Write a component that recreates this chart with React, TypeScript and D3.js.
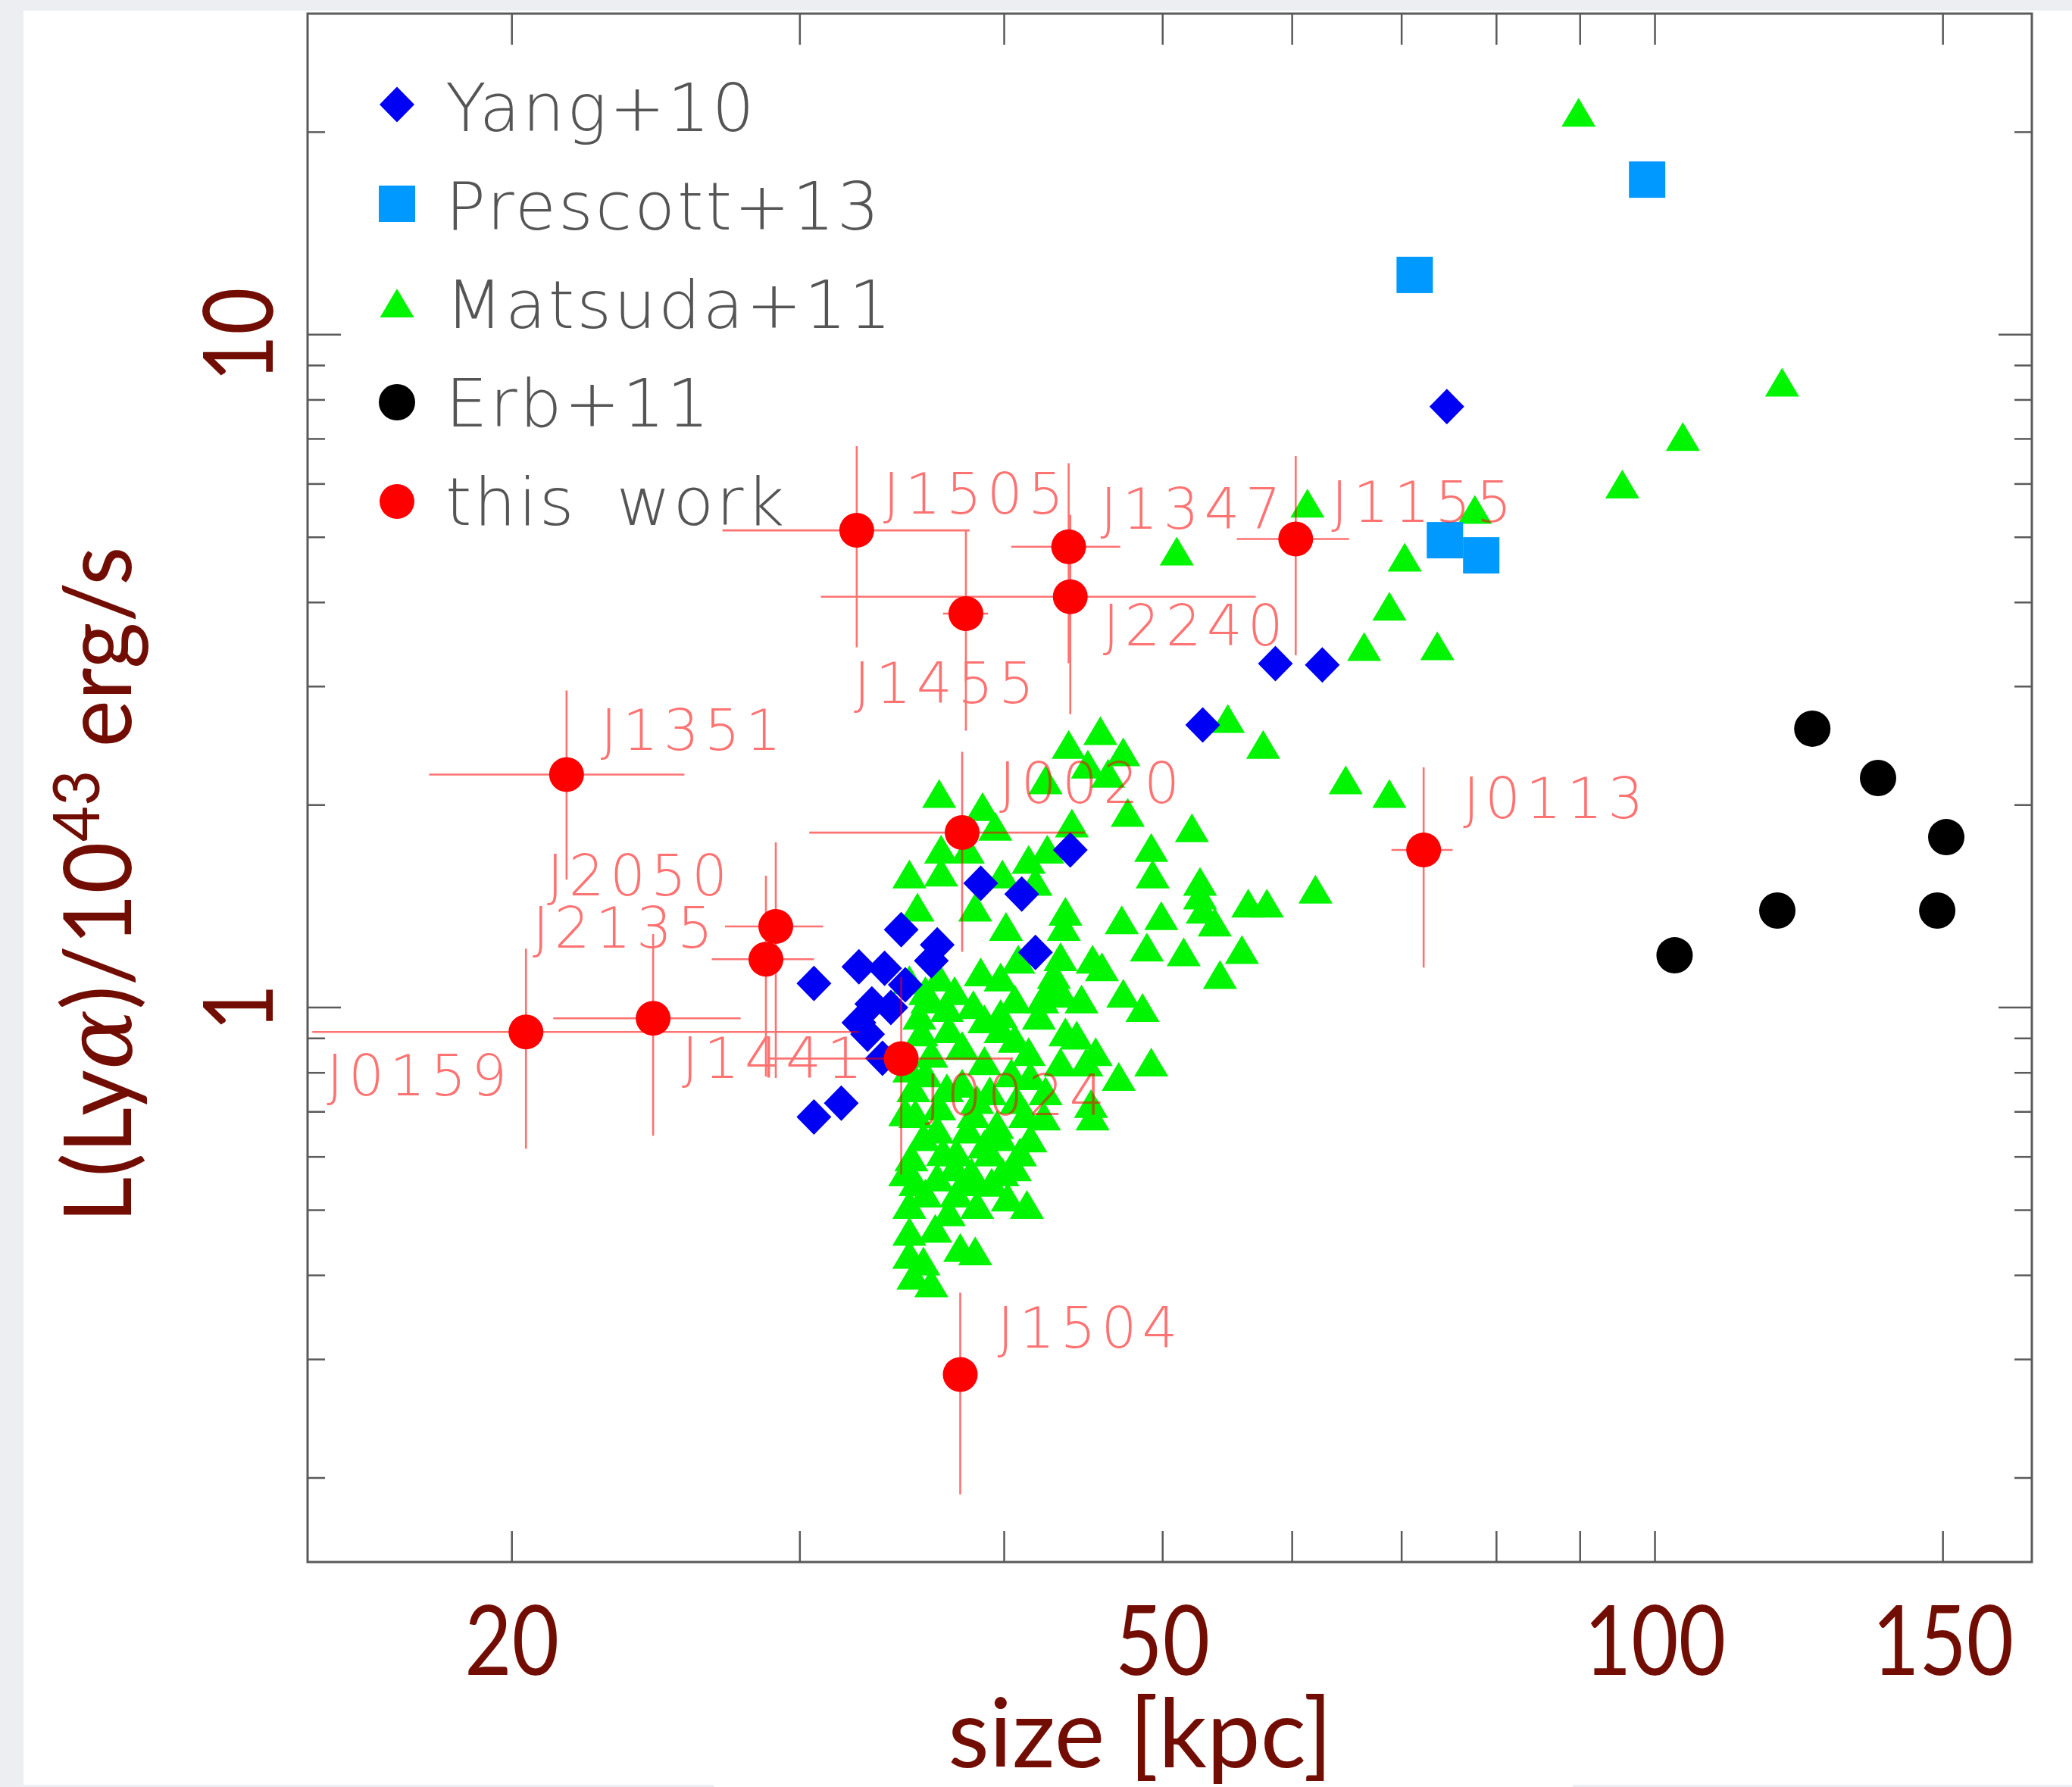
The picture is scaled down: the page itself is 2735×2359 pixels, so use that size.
import { useEffect } from 'react';
import * as d3 from 'd3';

// ---- data (size [kpc], L(Lya) / 1e43 erg/s) ----
const yang10: [number, number][] = [
  [74.6, 7.82], [58.6, 3.245], [62.6, 3.23], [52.9, 2.63], [43.9, 1.715], [38.7, 1.53],
  [41.0, 1.475], [41.8, 1.208], [34.6, 1.306], [36.4, 1.24], [36.1, 1.174], [30.6, 1.086],
  [32.6, 1.15], [33.8, 1.144], [34.8, 1.081], [33.2, 1.013], [34.1, 1.0], [32.6, 0.95],
  [33.0, 0.913], [33.7, 0.841], [30.6, 0.688], [31.8, 0.721],
];

const prescott13: [number, number][] = [
  [98.9, 17.0], [71.3, 12.27], [74.4, 4.95], [78.3, 4.7],
];

const matsuda11: [number, number][] = [
  [89.8, 21.4], [119.6, 8.5], [104.0, 7.06], [95.5, 6.0], [61.3, 5.62], [77.6, 5.5],
  [51.0, 4.77], [70.3, 4.67], [68.8, 3.95], [66.4, 3.44], [73.6, 3.45], [54.8, 2.69],
  [57.6, 2.46], [64.7, 2.18], [68.8, 2.08], [62.0, 1.5],
  [45.8, 2.58], [43.8, 2.46], [47.3, 2.4], [42.4, 2.18], [46.3, 2.23], [45.0, 2.3],
  [47.6, 1.95], [52.1, 1.85], [49.2, 1.73], [49.3, 1.58], [52.7, 1.54], [52.7, 1.47],
  [56.4, 1.43], [57.9, 1.43], [52.9, 1.4], [49.9, 1.37], [53.8, 1.34], [47.2, 1.35],
  [48.9, 1.23], [51.5, 1.21], [55.9, 1.22], [54.2, 1.12], [45.9, 1.15], [47.3, 1.05],
  [48.6, 1.0], [45.3, 1.18], [43.3, 1.19], [40.8, 1.18], [42.6, 1.07], [44.6, 1.03],
  [49.2, 0.83], [47.0, 0.79], [45.2, 0.72], [45.3, 0.69], [43.6, 0.92], [45.5, 0.86],
  [41.4, 0.86], [39.8, 0.93], [37.3, 1.06], [35.8, 1.06],
  [36.5, 2.08], [38.8, 1.99], [39.5, 1.86], [36.6, 1.72], [38.0, 1.72], [35.0, 1.58],
  [36.6, 1.59], [35.4, 1.41], [38.4, 1.41], [39.9, 1.58], [41.4, 1.66], [42.5, 1.72],
  [44.0, 1.88], [41.8, 1.54], [40.1, 1.32], [43.6, 1.39], [43.5, 1.32], [42.9, 1.12],
  [38.7, 1.13], [35.9, 1.03], [43.4, 1.05], [42.2, 1.03], [39.8, 0.98], [38.3, 1.01],
  [37.0, 0.93], [35.6, 0.92], [44.3, 0.91], [44.9, 0.83], [43.3, 0.83], [42.3, 0.69],
  [40.7, 0.73], [38.5, 0.73], [36.9, 0.76], [35.2, 0.76], [34.8, 0.7], [36.4, 0.66],
  [38.0, 0.66], [39.6, 0.67], [41.5, 0.64], [40.9, 0.61], [39.2, 0.61], [37.4, 0.61],
  [35.1, 0.6], [34.8, 0.57], [36.4, 0.56], [38.2, 0.57], [39.9, 0.57], [39.3, 0.55],
  [37.4, 0.53], [35.8, 0.53], [41.3, 0.51], [35.0, 0.51], [36.3, 0.47], [35.0, 0.465],
  [37.6, 0.44], [38.4, 0.435], [35.0, 0.43], [35.7, 0.42], [35.2, 0.4], [36.1, 0.39],
  [35.5, 0.974], [36.9, 1.0], [38.9, 0.962], [40.6, 1.03], [36.1, 0.855], [37.7, 0.878],
  [38.9, 0.834], [40.4, 0.8], [35.0, 0.813], [36.5, 0.714], [37.7, 0.772], [39.2, 0.752],
  [41.2, 0.696], [35.7, 0.643], [37.3, 0.58], [38.9, 0.627], [40.6, 0.58], [37.0, 0.497],
  [38.5, 0.51], [35.3, 0.696], [42.4, 0.752], [35.0, 1.1], [42.0, 0.974], [36.5, 1.11],
  [39.8, 1.11], [40.6, 0.9], [35.8, 0.8], [38.3, 0.696], [39.8, 0.643], [36.7, 0.611],
  [38.2, 0.551], [40.2, 0.523], [35.3, 0.551], [41.5, 0.792],
];

const erb11: [number, number][] = [
  [124.8, 2.597], [136.9, 2.194], [150.7, 1.792], [148.8, 1.394], [118.8, 1.394], [102.8, 1.196],
];

// this work: name, size (lo, hi), luminosity (lo, hi)
const workNames = ['J1505', 'J1455', 'J1347', 'J2240', 'J1155', 'J1351', 'J2050',
  'J2135', 'J0159', 'J1441', 'J0024', 'J0020', 'J0113', 'J1504'];
const workSize = [32.5, 37.9, 43.8, 43.9, 60.3, 21.6, 29.0, 28.6, 20.4, 24.4, 34.6, 37.7, 72.2, 37.6];
const workSizeLo = [26.9, 36.7, 40.4, 30.9, 55.5, 17.8, 27.0, 26.5, 15.1, 21.2, 28.7, 30.4, 69.0, 37.6];
const workSizeHi = [38.1, 39.1, 47.1, 57.0, 65.0, 25.5, 31.0, 30.6, 32.6, 27.6, 40.5, 44.8, 75.2, 37.6];
const workLum = [5.12, 3.85, 4.84, 4.08, 4.97, 2.22, 1.32, 1.18, 0.92, 0.964, 0.84, 1.82, 1.715, 0.285];
const workLumLo = [3.43, 2.58, 3.25, 2.73, 3.34, 1.55, 0.786, 0.79, 0.617, 0.645, 0.565, 1.21, 1.147, 0.189];
const workLumHi = [6.83, 5.12, 6.44, 5.4, 6.6, 2.96, 1.76, 1.57, 1.224, 1.286, 1.11, 2.4, 2.275, 0.377];
// label placement relative to the point (px)
const labelOffset: [number, number][] = [
  [35, -22], [-148, 118], [42, -24], [43, 64], [47, -23], [45, -32], [-302, -41],
  [-308, -15], [-263, 84], [38, 79], [31, 75], [49, -39], [52, -42], [49, -35],
];

const xTicks = [20, 30, 40, 50, 60, 70, 80, 90, 100, 150];
const xTickLabels = [20, 50, 100, 150];
const yMajor = [1, 10];
const yMinor = [0.2, 0.3, 0.4, 0.5, 0.6, 0.7, 0.8, 0.9, 2, 3, 4, 5, 6, 7, 8, 9, 20];

const legendItems = ['Yang+10', 'Prescott+13', 'Matsuda+11', 'Erb+11', 'this work'];

const W = 2735;
const H = 2359;
const plot = { left: 406, right: 2682, top: 18, bottom: 2062 };
const MAROON = '#720d03';
const FRAME = '#5a5a5a';
const HERSHEY = '"DejaVu Sans", sans-serif';

function Marker({ kind, cx, cy }: { kind: string; cx: number; cy: number }) {
  if (kind === 'diamond') {
    return <path d={`M${cx},${cy - 23.5}L${cx + 23},${cy}L${cx},${cy + 23.5}L${cx - 23},${cy}Z`} fill="#0000f5" />;
  }
  if (kind === 'square') {
    return <rect x={cx - 24} y={cy - 24} width={48} height={48} fill="#0099ff" />;
  }
  if (kind === 'triangle') {
    return <path d={`M${cx},${cy - 19}L${cx + 22.5},${cy + 19}L${cx - 22.5},${cy + 19}Z`} fill="#00f500" />;
  }
  if (kind === 'black') return <circle cx={cx} cy={cy} r={24} fill="#000" />;
  return <circle cx={cx} cy={cy} r={23} fill="#ff0000" />;
}

export default function App() {
  useEffect(() => {
    document.body.style.margin = '0';
    document.body.style.overflow = 'hidden';
  }, []);

  const x = d3.scaleLog().domain([15, 170]).range([plot.left, plot.right]);
  const y = d3.scaleLog().domain([0.15, 30]).range([plot.bottom, plot.top]);

  const legendKinds = ['diamond', 'square', 'triangle', 'black', 'red'];

  return (
    <svg width={W} height={H} style={{ display: 'block', position: 'absolute', left: 0, top: 0 }}>
      {/* slide background */}
      <rect x={0} y={0} width={W} height={H} fill="#eceef2" />
      <rect x={31} y={14} width={W - 31} height={2342} fill="#fff" />
      <rect x={942} y={2350} width={1134} height={9} fill="#fff" />

      {/* frame */}
      <rect x={plot.left} y={plot.top} width={plot.right - plot.left} height={plot.bottom - plot.top}
        fill="none" stroke={FRAME} strokeWidth={3} />

      {/* x ticks top + bottom */}
      {xTicks.map(t => (
        <g key={'xt' + t} stroke={FRAME} strokeWidth={2.5}>
          <line x1={x(t)} x2={x(t)} y1={plot.bottom} y2={plot.bottom - 41} />
          <line x1={x(t)} x2={x(t)} y1={plot.top} y2={plot.top + 41} />
        </g>
      ))}
      {/* y ticks left + right */}
      {yMajor.map(t => (
        <g key={'ym' + t} stroke={FRAME} strokeWidth={2.5}>
          <line x1={plot.left} x2={plot.left + 44} y1={y(t)} y2={y(t)} />
          <line x1={plot.right} x2={plot.right - 44} y1={y(t)} y2={y(t)} />
        </g>
      ))}
      {yMinor.map(t => (
        <g key={'yn' + t} stroke={FRAME} strokeWidth={2.5}>
          <line x1={plot.left} x2={plot.left + 23} y1={y(t)} y2={y(t)} />
          <line x1={plot.right} x2={plot.right - 23} y1={y(t)} y2={y(t)} />
        </g>
      ))}

      {/* tick labels (narrow humanist digits) */}
      {xTickLabels.map(t => (
        <text key={'xl' + t} transform={`translate(${x(t)},2211) scale(0.84,1)`} textAnchor="middle" fill={MAROON}
          fontFamily="Lato, sans-serif" fontSize={128}>{t}</text>
      ))}
      {yMajor.map(t => (
        <text key={'yl' + t} transform={`translate(360,${y(t)}) rotate(-90) scale(0.84,1)`} textAnchor="middle"
          fill={MAROON} fontFamily="Lato, sans-serif" fontSize={128}>{t}</text>
      ))}

      {/* axis titles */}
      <text x={1505} y={2333} textAnchor="middle" fill={MAROON} fontFamily="Lato, sans-serif" fontSize={126}>
        size [kpc]
      </text>
      <text transform="translate(173,1168) rotate(-90) scale(0.95,1)" textAnchor="middle" fill={MAROON}
        fontFamily="Lato, sans-serif" fontSize={124}>
        L(Ly<tspan fontFamily="DejaVu Serif, serif" fontStyle="italic">α</tspan>)/10
        <tspan fontSize={86} dy={-42}>43</tspan>
        <tspan dy={42}> erg/s</tspan>
      </text>

      {/* Matsuda+11 */}
      {matsuda11.map((d, i) => <Marker key={'m' + i} kind="triangle" cx={x(d[0])} cy={y(d[1])} />)}
      {/* Yang+10 */}
      {yang10.map((d, i) => <Marker key={'y' + i} kind="diamond" cx={x(d[0])} cy={y(d[1])} />)}
      {/* Prescott+13 */}
      {prescott13.map((d, i) => <Marker key={'p' + i} kind="square" cx={x(d[0])} cy={y(d[1])} />)}
      {/* Erb+11 */}
      {erb11.map((d, i) => <Marker key={'e' + i} kind="black" cx={x(d[0])} cy={y(d[1])} />)}

      {/* this work: error bars + labels (semi-transparent red) */}
      <g opacity={0.55}>
        {workNames.map((name, i) => (
          <g key={'err' + name} stroke="#ff0000" strokeWidth={2.6}>
            {workSizeLo[i] !== workSizeHi[i] && (
              <line x1={x(workSizeLo[i])} x2={x(workSizeHi[i])} y1={y(workLum[i])} y2={y(workLum[i])} />
            )}
            <line x1={x(workSize[i])} x2={x(workSize[i])} y1={y(workLumLo[i])} y2={y(workLumHi[i])} />
          </g>
        ))}
        {workNames.map((name, i) => (
          <text key={'lab' + name} x={x(workSize[i]) + labelOffset[i][0]} y={y(workLum[i]) + labelOffset[i][1]}
            fill="#ff0000" fontFamily={HERSHEY} fontWeight={200} fontSize={74} letterSpacing={7}>{name}</text>
        ))}
      </g>
      {workNames.map((name, i) => <Marker key={'w' + name} kind="red" cx={x(workSize[i])} cy={y(workLum[i])} />)}

      {/* legend */}
      {legendItems.map((label, i) => (
        <g key={label}>
          <Marker kind={legendKinds[i]} cx={524} cy={138 + i * 131} />
          <text x={588} y={173 + i * 130} fill="#555"
            fontFamily={HERSHEY} fontWeight={200} fontSize={88} letterSpacing={3} wordSpacing={22}>{label}</text>
        </g>
      ))}
    </svg>
  );
}
